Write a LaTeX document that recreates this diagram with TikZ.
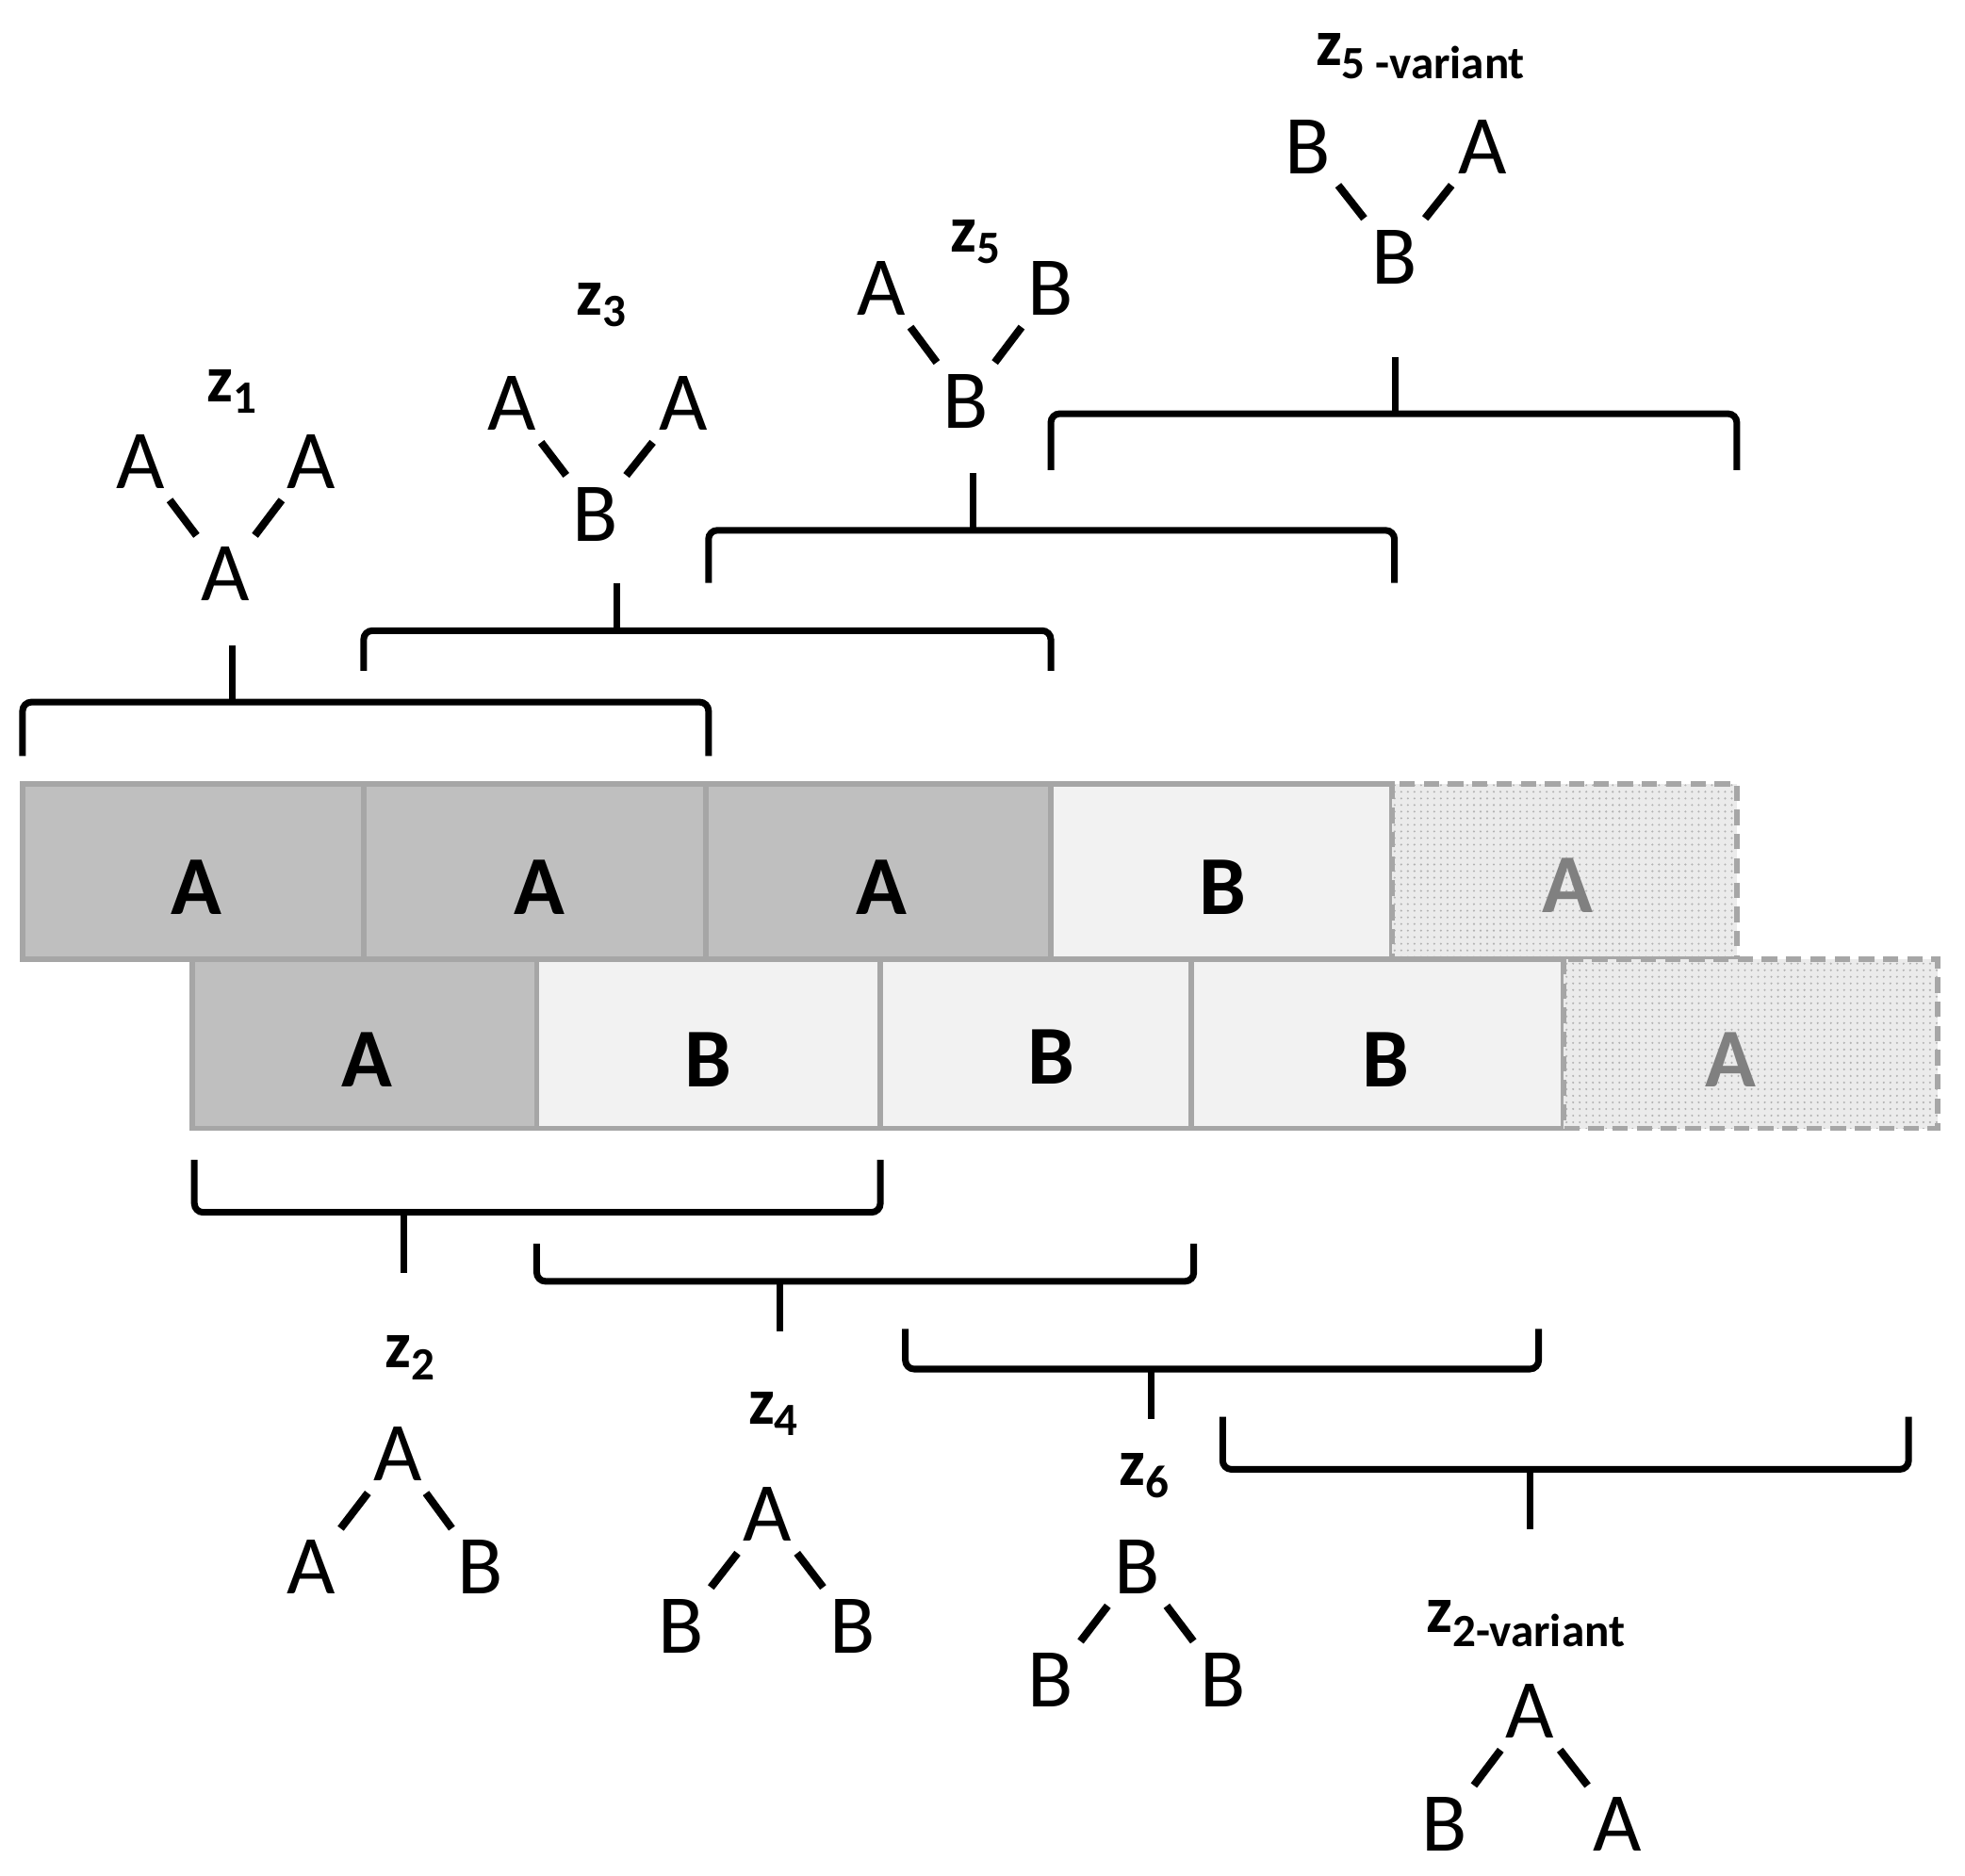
\documentclass[tikz,border=0pt]{standalone}
\usepackage{fontspec}
\setmainfont{Carlito}
\usetikzlibrary{patterns}
\begin{document}
\begin{tikzpicture}[x=0.02cm,y=-0.02cm,
  dark/.style={draw=black!35,line width=2.5pt,fill=black!25},
  light/.style={draw=black!35,line width=2.5pt,fill=black!5},
  varb/.style={draw=black!35,line width=2.5pt,dash pattern=on 7pt off 4pt},
  boxtxt/.style={font=\fontsize{38}{40}\selectfont\bfseries},
  lt/.style={font=\fontsize{38}{40}\selectfont,inner sep=2pt},
  lab/.style={font=\fontsize{30}{32}\selectfont\bfseries},
  br/.style={line width=3pt,rounded corners=4pt},
  ed/.style={line width=3.5pt,shorten >=4pt,shorten <=4pt}]
\useasboundingbox (0,0) rectangle (1567,1496);
% top row
\draw[dark] (18,625) rectangle (290,765);
\draw[dark] (290,625) rectangle (563,765);
\draw[dark] (563,625) rectangle (838,765);
\draw[light] (838,625) rectangle (1110,765);
\fill[black!8] (1110,625) rectangle (1385,765);
\fill[pattern=dots,pattern color=black!30] (1110,625) rectangle (1385,765);
\draw[varb] (1110,625) rectangle (1385,765);
\node[boxtxt] (t1) at (157,708) {A};
\node[boxtxt] (t2) at (430,708) {A};
\node[boxtxt] (t3) at (703,708) {A};
\node[boxtxt] (t4) at (975,708) {B};
\node[boxtxt,text=black!50] (t5) at (1250,706) {A};
% bottom row
\draw[dark] (153,765) rectangle (428,900);
\draw[light] (428,765) rectangle (702,900);
\draw[light] (702,765) rectangle (950,900);
\draw[light] (950,765) rectangle (1247,900);
\fill[black!8] (1247,765) rectangle (1545,900);
\fill[pattern=dots,pattern color=black!30] (1247,765) rectangle (1545,900);
\draw[varb] (1247,765) rectangle (1545,900);
\node[boxtxt] (b1) at (293,845) {A};
\node[boxtxt] (b2) at (565,845) {B};
\node[boxtxt] (b3) at (838,843) {B};
\node[boxtxt] (b4) at (1105,845) {B};
\node[boxtxt,text=black!50] (b5) at (1380,845) {A};
% top brackets
\draw[br] (18,603) -- (18,560) -- (565,560) -- (565,603);
\draw[br] (185,560) -- (185,515);
\draw[br] (290,535) -- (290,503) -- (838,503) -- (838,535);
\draw[br] (492,503) -- (492,465);
\draw[br] (565,465) -- (565,423) -- (1112,423) -- (1112,465);
\draw[br] (776,423) -- (776,377);
\draw[br] (838,375) -- (838,330) -- (1385,330) -- (1385,375);
\draw[br] (1113,330) -- (1113,285);
% bottom brackets
\draw[br] (155,925) -- (155,967) -- (702,967) -- (702,925);
\draw[br] (322,967) -- (322,1015);
\draw[br] (428,992) -- (428,1022) -- (952,1022) -- (952,992);
\draw[br] (622,1022) -- (622,1062);
\draw[br] (722,1060) -- (722,1092) -- (1227,1092) -- (1227,1060);
\draw[br] (918,1092) -- (918,1132);
\draw[br] (975,1130) -- (975,1172) -- (1522,1172) -- (1522,1130);
\draw[br] (1220,1172) -- (1220,1220);
% top trees
\node[lab] (l1) at (185,312) {z\textsubscript{1}};
\node[lt] (a1) at (112,368) {A}; \node[lt] (a2) at (248,368) {A}; \node[lt] (a0) at (180,458) {A};
\draw[ed] (a1) -- (a0); \draw[ed] (a2) -- (a0);
\node[lab] (l3) at (480,243) {z\textsubscript{3}};
\node[lt] (c1) at (408,322) {A}; \node[lt] (c2) at (545,322) {A}; \node[lt] (c0) at (475,410) {B};
\draw[ed] (c1) -- (c0); \draw[ed] (c2) -- (c0);
\node[lab] (l5) at (778,193) {z\textsubscript{5}};
\node[lt] (e1) at (703,230) {A}; \node[lt] (e2) at (838,230) {B}; \node[lt] (e0) at (770,320) {B};
\draw[ed] (e1) -- (e0); \draw[ed] (e2) -- (e0);
\node[lab] (l5v) at (1133,45) {z\textsubscript{5 -variant}};
\node[lt] (f1) at (1043,117) {B}; \node[lt] (f2) at (1182,117) {A}; \node[lt] (f0) at (1112,205) {B};
\draw[ed] (f1) -- (f0); \draw[ed] (f2) -- (f0);
% bottom trees
\node[lab] (l2) at (327,1083) {z\textsubscript{2}};
\node[lt] (g0) at (317,1160) {A}; \node[lt] (g1) at (248,1250) {A}; \node[lt] (g2) at (383,1250) {B};
\draw[ed] (g0) -- (g1); \draw[ed] (g0) -- (g2);
\node[lab] (l4) at (617,1128) {z\textsubscript{4}};
\node[lt] (h0) at (612,1208) {A}; \node[lt] (h1) at (543,1297) {B}; \node[lt] (h2) at (680,1297) {B};
\draw[ed] (h0) -- (h1); \draw[ed] (h0) -- (h2);
\node[lab] (l6) at (913,1177) {z\textsubscript{6}};
\node[lt] (i0) at (907,1250) {B}; \node[lt] (i1) at (838,1340) {B}; \node[lt] (i2) at (975,1340) {B};
\draw[ed] (i0) -- (i1); \draw[ed] (i0) -- (i2);
\node[lab] (l2v) at (1217,1295) {z\textsubscript{2-variant}};
\node[lt] (j0) at (1220,1365) {A}; \node[lt] (j1) at (1152,1455) {B}; \node[lt] (j2) at (1290,1455) {A};
\draw[ed] (j0) -- (j1); \draw[ed] (j0) -- (j2);
\end{tikzpicture}
\end{document}
